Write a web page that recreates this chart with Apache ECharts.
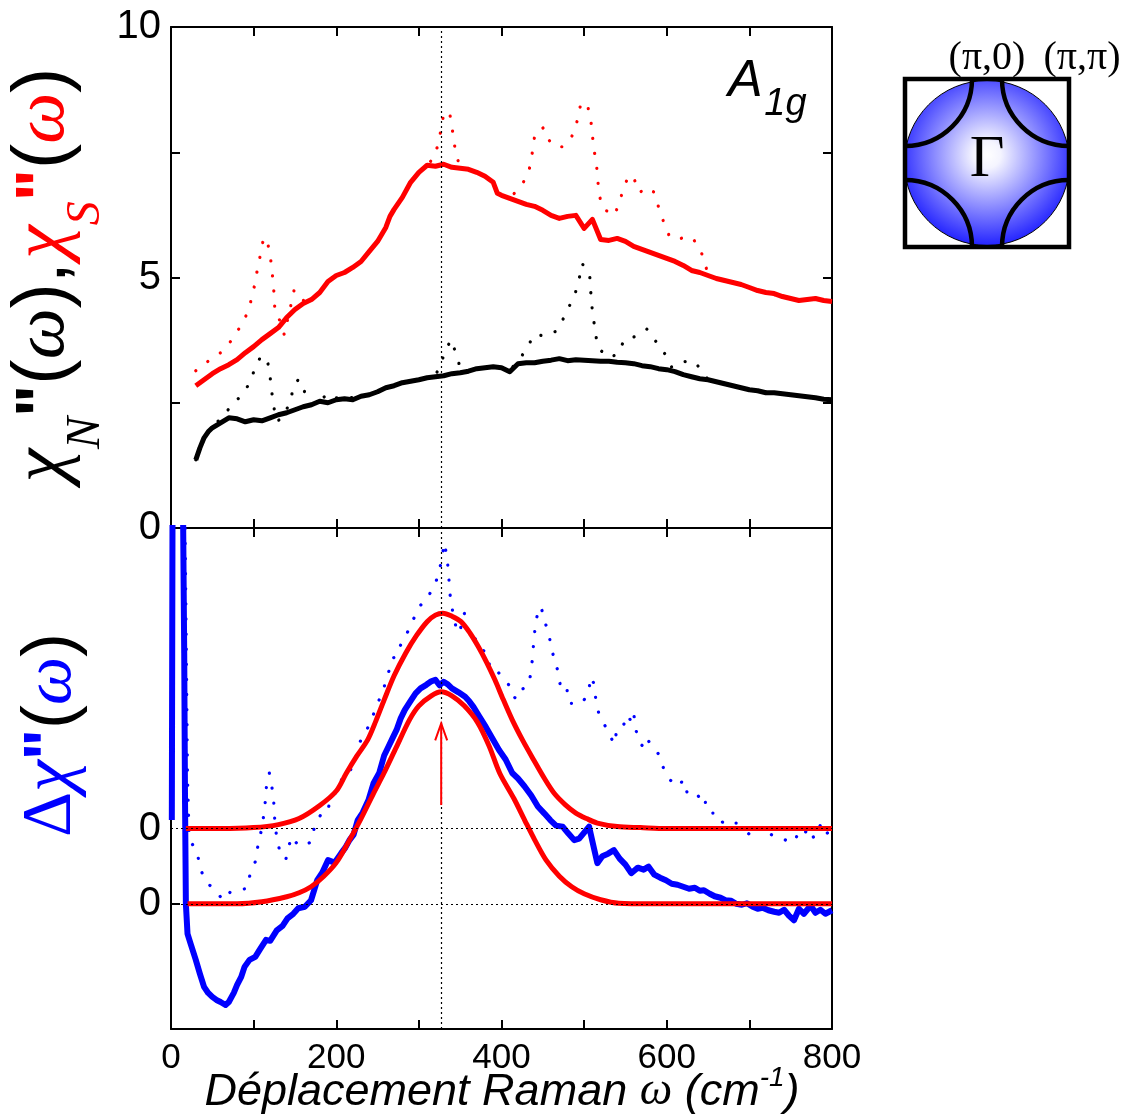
<!DOCTYPE html>
<html><head><meta charset="utf-8">
<script src="https://cdn.jsdelivr.net/npm/echarts@6/dist/echarts.min.js"></script>
<style>html,body{margin:0;padding:0;background:#fff}#c{width:1130px;height:1120px}</style>
</head><body><div id="c"></div>
<script>
// ---------- DATA (omega cm^-1, value) ----------
const xTickLabels = [0, 200, 400, 600, 800];
const topTickLabels = [0, 5, 10];
const bottomZeroLevels = [0, 1.5];
const peakOmega = 327;

// chi''_N  (normal state, smoothed, black solid)
const chiN = [[30,1.36],[35,1.6],[40,1.8],[45,1.92],[50,2.0],[60,2.1],[70,2.2],[80,2.18],[90,2.12],[100,2.16],[110,2.14],[120,2.2],[130,2.26],[140,2.3],[150,2.36],[160,2.42],[170,2.46],[180,2.53],[190,2.5],[200,2.56],[210,2.58],[220,2.56],[230,2.63],[240,2.66],[250,2.72],[260,2.8],[270,2.84],[280,2.9],[290,2.93],[300,2.96],[310,3.0],[320,3.02],[330,3.04],[340,3.08],[350,3.1],[360,3.13],[370,3.18],[380,3.2],[390,3.22],[400,3.2],[410,3.12],[420,3.28],[430,3.3],[440,3.3],[450,3.33],[460,3.35],[470,3.38],[480,3.34],[490,3.36],[500,3.35],[510,3.34],[520,3.33],[530,3.33],[540,3.31],[550,3.3],[560,3.28],[570,3.24],[580,3.22],[590,3.18],[600,3.16],[610,3.12],[620,3.06],[630,3.02],[640,2.98],[650,2.96],[660,2.92],[670,2.88],[680,2.84],[690,2.8],[700,2.76],[710,2.74],[720,2.7],[730,2.7],[740,2.68],[750,2.66],[760,2.64],[770,2.62],[780,2.6],[790,2.57],[800,2.56]];

// chi''_S  (superconducting state, smoothed, red solid)
const chiS = [[30,2.84],[40,2.96],[50,3.08],[60,3.18],[70,3.26],[80,3.36],[90,3.5],[100,3.62],[110,3.76],[120,3.88],[130,4.0],[140,4.2],[150,4.36],[160,4.48],[170,4.56],[180,4.7],[190,4.92],[200,5.04],[210,5.1],[220,5.2],[230,5.32],[240,5.52],[250,5.72],[260,6.0],[265,6.22],[270,6.36],[280,6.6],[290,6.9],[300,7.1],[310,7.24],[320,7.22],[330,7.26],[340,7.2],[350,7.18],[360,7.16],[370,7.1],[380,7.02],[390,6.9],[395,6.68],[400,6.64],[410,6.58],[420,6.52],[430,6.46],[440,6.42],[450,6.34],[460,6.24],[470,6.18],[480,6.22],[490,6.24],[500,5.98],[510,6.16],[520,5.76],[530,5.74],[540,5.78],[550,5.72],[560,5.62],[570,5.56],[580,5.5],[590,5.44],[600,5.38],[610,5.32],[620,5.24],[630,5.14],[640,5.1],[650,5.04],[660,4.98],[670,4.94],[680,4.9],[690,4.86],[700,4.8],[710,4.74],[720,4.7],[730,4.68],[740,4.62],[750,4.58],[760,4.54],[770,4.56],[780,4.58],[790,4.54],[800,4.52]];

// raw chi''_N with phonons (black dotted)
const chiNRaw = [[30,1.36],[40,1.8],[50,2.0],[62,2.23],[73,2.43],[84,2.63],[95,2.88],[101,3.16],[109,3.44],[117,3.32],[120,3.01],[122,2.71],[124.5,2.41],[128,2.13],[135,2.2],[145,2.54],[148,2.83],[154.5,2.97],[162,2.71],[170,2.46],[180,2.53],[190,2.69],[200,2.6],[210,2.58],[230,2.63],[250,2.72],[270,2.84],[290,2.93],[310,3.0],[320,3.05],[326.5,3.26],[331.7,3.53],[339,3.76],[345,3.48],[350,3.2],[360,3.13],[380,3.2],[400,3.2],[410,3.15],[423,3.39],[431.6,3.63],[440.6,3.87],[452,3.83],[465,3.92],[473.6,4.14],[481,4.39],[489,4.67],[494,4.97],[497.6,5.28],[506.7,5.05],[509,4.47],[511.5,4.17],[513.5,3.87],[518.4,3.57],[530,3.4],[540.6,3.47],[549,3.77],[564,3.83],[576,3.97],[587,3.72],[598,3.47],[606,3.21],[619,3.32],[633,3.33],[641,3.17],[650,2.96],[680,2.84],[700,2.76],[740,2.68],[770,2.62],[800,2.56]];

// raw chi''_S with phonons (red dotted)
const chiSRaw = [[30,3.14],[45,3.33],[61,3.51],[74,3.76],[85,4.05],[93,4.31],[98,4.61],[102,4.91],[105,5.21],[109,5.51],[112,5.79],[116,5.76],[120,5.46],[122,5.16],[124,4.85],[125,4.56],[126,4.29],[133,4.11],[137,3.86],[145,4.44],[149,4.75],[155,4.68],[162,4.5],[170,4.56],[180,4.7],[190,4.92],[200,5.04],[210,5.1],[220,5.2],[230,5.32],[240,5.52],[250,5.72],[260,6.0],[270,6.36],[280,6.6],[290,6.9],[300,7.1],[310,7.24],[318,7.39],[324,7.69],[327,7.99],[330,8.26],[337,8.31],[340,8.01],[345,7.43],[352,7.15],[360,7.16],[370,7.1],[380,7.02],[390,6.9],[400,6.64],[410,6.58],[422,6.8],[431,7.01],[436,7.31],[438,7.61],[441,7.91],[451,7.99],[458,7.73],[464,7.61],[474,7.61],[485,7.81],[493,8.19],[496,8.49],[504,8.44],[508,8.16],[510,7.84],[512,7.55],[515,7.25],[518,6.66],[523,6.37],[537,6.24],[543,6.53],[549,6.83],[554,7.04],[560,6.99],[567,6.69],[575,6.8],[584,6.71],[590,6.41],[596,6.12],[603,5.83],[611,5.75],[619,5.79],[630,5.81],[639,5.61],[644,5.41],[650,5.06],[660,4.98],[680,4.9],[700,4.8],[720,4.7],[740,4.62],[760,4.54],[780,4.58],[800,4.52]];

// Delta chi'' smoothed (blue solid), bottom panel, baseline 0
const dChi = [[1,1.67],[2,9],[14,9],[16,5],[17,2],[18,0],[20,-0.6],[23.6,-0.79],[30,-1.12],[35,-1.4],[40,-1.66],[45,-1.78],[50,-1.86],[55,-1.92],[60,-1.96],[66,-2.02],[70,-1.96],[76,-1.78],[80,-1.62],[85,-1.46],[89,-1.26],[95,-1.12],[102,-1.06],[108,-0.9],[115,-0.72],[120,-0.74],[128,-0.53],[135,-0.44],[141,-0.29],[148,-0.2],[154,-0.09],[162,-0.06],[169.5,0.07],[177,0.47],[183,0.62],[190,0.87],[198,0.82],[206,1.01],[211,1.12],[216,1.27],[221,1.38],[226,1.67],[232,1.82],[239,2.07],[245,2.4],[252,2.61],[258,2.96],[263,3.13],[268,3.3],[273,3.47],[278,3.7],[283,3.87],[290,4.05],[296,4.2],[302,4.3],[309,4.37],[315,4.44],[320,4.47],[325,4.36],[330,4.43],[335,4.38],[340,4.3],[348,4.22],[356,4.13],[361,4.04],[366,3.93],[373,3.74],[381,3.53],[389,3.3],[397,3.07],[405,2.88],[413,2.61],[420,2.5],[428,2.34],[436,2.16],[444,1.94],[452,1.8],[459,1.67],[466,1.56],[474,1.54],[481,1.4],[488,1.27],[494,1.3],[500,1.42],[506,1.54],[512,1.1],[516,0.81],[522,0.95],[529,1.0],[536,1.07],[543,0.9],[550,0.78],[557,0.61],[565,0.72],[572,0.68],[578,0.74],[585,0.58],[592,0.52],[599,0.47],[606,0.4],[613,0.38],[620,0.34],[627,0.3],[634,0.32],[640,0.26],[645,0.27],[652,0.2],[658,0.15],[665,0.12],[671,0.07],[678,0.06],[684,0.0],[691,-0.02],[697,0.01],[704,-0.06],[710,-0.1],[716,-0.08],[723,-0.13],[730,-0.16],[736,-0.18],[742,-0.12],[748,-0.24],[754,-0.33],[760,-0.1],[766,-0.2],[772,-0.08],[775,-0.06],[780,-0.18],[786,-0.12],[792,-0.2],[800,-0.13]];

// Delta chi'' raw (blue dotted), bottom panel, offset baseline 1.5
const dChiRaw = [[16,9],[18,6],[20,2.5],[22,1.3],[32,1.01],[35,0.71],[42.5,0.44],[53,0.27],[63.5,0.07],[72,0.24],[83,0.27],[92,0.31],[96,0.61],[102,0.84],[105,1.14],[109,1.44],[112,1.74],[114,2.02],[115.5,2.34],[119,2.61],[122,2.34],[124,2.14],[125,1.84],[126,1.54],[129,1.24],[133,0.95],[139,0.89],[145.6,1.34],[152,1.21],[159,1.14],[170,1.24],[174,1.57],[181,1.77],[189.6,1.81],[192.6,2.11],[201,2.24],[209,2.59],[216.5,2.64],[224,2.93],[228,3.21],[237,3.47],[243.8,3.73],[251,4.03],[258,4.33],[263,4.6],[268,4.9],[273.6,4.94],[278.6,5.2],[286.5,5.43],[294,5.7],[302,5.96],[310,6.06],[315,6.26],[318.8,6.33],[324,6.6],[328,6.9],[330.7,7.2],[334,6.93],[335.7,6.63],[337,6.33],[338.5,6.03],[344.8,5.53],[349,5.4],[355,5.8],[359,5.43],[365.5,5.4],[372,5.13],[380,5.03],[384,4.94],[386,4.68],[395.6,4.63],[403,4.47],[408.8,4.37],[411,4.2],[417.6,4.09],[420.7,4.25],[427,4.3],[433,4.37],[436,4.66],[437.7,4.94],[439,5.23],[440.8,5.53],[444,5.83],[448,5.93],[451.6,5.66],[457.4,5.4],[460,5.1],[462,5.0],[466,4.76],[470,4.56],[471.4,4.27],[479,4.3],[482,4.0],[487,4.0],[497.6,4.0],[505.5,4.23],[508,4.53],[511.7,4.4],[514,4.1],[517.6,3.81],[520,3.73],[526,3.53],[534,3.27],[537.7,3.19],[539,3.47],[547,3.53],[552,3.77],[557.5,3.63],[560,3.8],[562.6,3.47],[567.7,3.2],[572,3.13],[575.6,3.3],[584.5,3.1],[591,2.97],[596,2.71],[604,2.47],[613.6,2.34],[620,2.47],[625,2.2],[632.7,2.24],[640.5,2.11],[645.6,2.17],[648,1.87],[653.6,1.81],[661.6,1.81],[666.7,1.64],[672,1.57],[677,1.61],[685,1.61],[690,1.44],[695.6,1.57],[698,1.37],[707.5,1.57],[713.6,1.47],[721.5,1.44],[730,1.34],[739.6,1.31],[747,1.24],[755,1.24],[760,1.47],[766.6,1.41],[773,1.51],[778,1.31],[786,1.57],[791,1.37],[799,1.47]];

// fits (red solid), upper on 1.5 baseline, lower on 0 baseline
const fitUpper = [[18,1.5],[60,1.5],[100,1.52],[130,1.58],[155,1.7],[180,1.96],[200,2.25],[212,2.6],[225,2.95],[238,3.27],[248,3.65],[258,4.07],[270,4.55],[284,5.0],[297,5.35],[310,5.63],[320,5.76],[329,5.8],[340,5.74],[351,5.63],[362,5.4],[372,5.13],[382,4.82],[392,4.47],[402,4.08],[413,3.67],[426,3.25],[439,2.87],[452,2.5],[464,2.2],[477,1.98],[490,1.81],[503,1.7],[516,1.61],[540,1.54],[568,1.52],[600,1.5],[800,1.5]];
const fitLower = [[20,0],[80,0],[110,0.04],[140,0.14],[155,0.22],[169.5,0.34],[185,0.55],[200,0.82],[216,1.27],[230,1.7],[245,2.2],[257.5,2.6],[272,3.1],[288.6,3.67],[300,3.95],[315,4.15],[327,4.23],[340,4.15],[355,3.95],[371,3.62],[385,3.15],[398,2.6],[415,2.1],[428,1.67],[440,1.28],[454,0.87],[470,0.55],[485,0.34],[500,0.2],[520,0.08],[542,0.01],[580,0],[800,0]];

// arrow marking the peak: [omega, from, to]
const peakArrow = [[327, 1.97, 3.6]];

// ---------- CHART ----------
const chart = echarts.init(document.getElementById('c'));
const AX = {onZero:false, lineStyle:{color:'#000',width:2}};
const tickIn = (extra) => Object.assign({show:true,inside:true,length:9,lineStyle:{color:'#000',width:2}}, extra||{});
const sans = 'Liberation Sans, Arial, sans-serif';
const SANS = '"Liberation Sans", Arial, sans-serif';
const SERIF = '"Liberation Serif", "Times New Roman", serif';
const F = (st, wt, sz, fam) => st + ' ' + wt + ' ' + sz + 'px ' + fam;

const dotted = (color) => ({color, width:3.2, type:[0.1,15], cap:'round'});
const refLine = {silent:true, symbol:'none', label:{show:false}, lineStyle:{color:'#000',width:1.2,type:[2,3]}, animation:false};

const option = {
  animation:false,
  backgroundColor:'#fff',
  grid:[
    {left:171, top:27, width:661, height:501},
    {left:171, top:528, width:661, height:501}
  ],
  xAxis:[
    {gridIndex:0, type:'value', min:0, max:800, interval:100, position:'bottom', axisLine:AX, axisTick:tickIn(), axisLabel:{show:false}, splitLine:{show:false}},
    {gridIndex:0, type:'value', min:0, max:800, interval:100, position:'top', axisLine:AX, axisTick:tickIn(), axisLabel:{show:false}, splitLine:{show:false}},
    {gridIndex:1, type:'value', min:0, max:800, interval:100, position:'bottom', axisLine:AX, axisTick:tickIn(),
      axisLabel:{show:true, customValues:xTickLabels, fontFamily:sans, fontSize:35, color:'#000', margin:12}, splitLine:{show:false}},
    {gridIndex:1, type:'value', min:0, max:800, interval:100, position:'top', axisLine:AX, axisTick:tickIn(), axisLabel:{show:false}, splitLine:{show:false}}
  ],
  yAxis:[
    {gridIndex:0, type:'value', min:0, max:10, interval:2.5, position:'left', axisLine:AX, axisTick:tickIn(),
      axisLabel:{show:true, customValues:topTickLabels, fontFamily:sans, fontSize:40, color:'#000', margin:10}, splitLine:{show:false}},
    {gridIndex:0, type:'value', min:0, max:10, interval:2.5, position:'right', axisLine:AX, axisTick:tickIn(), axisLabel:{show:false}, splitLine:{show:false}},
    {gridIndex:1, type:'value', min:-2.5, max:7.5, interval:0.5, position:'left', axisLine:AX,
      axisTick:tickIn({customValues:[0]}),
      axisLabel:{show:true, customValues:bottomZeroLevels, formatter:()=> '0', fontFamily:sans, fontSize:40, color:'#000', margin:10}, splitLine:{show:false}},
    {gridIndex:1, type:'value', min:-2.5, max:7.5, interval:0.5, position:'right', axisLine:AX, axisTick:{show:false}, axisLabel:{show:false}, splitLine:{show:false}}
  ],
  series:[
    {type:'line', xAxisIndex:0, yAxisIndex:0, data:chiNRaw, showSymbol:false, lineStyle:dotted('#000'), z:2,
      markLine:Object.assign({}, refLine, {data:[{xAxis:peakOmega}]})},
    {type:'line', xAxisIndex:0, yAxisIndex:0, data:chiSRaw, showSymbol:false, lineStyle:dotted('#ff0000'), z:2},
    {type:'line', xAxisIndex:0, yAxisIndex:0, data:chiN, showSymbol:false, lineStyle:{color:'#000',width:5,join:'round'}, z:3},
    {type:'line', xAxisIndex:0, yAxisIndex:0, data:chiS, showSymbol:false, lineStyle:{color:'#ff0000',width:5,join:'round'}, z:3},

    {type:'line', xAxisIndex:2, yAxisIndex:2, data:dChiRaw, showSymbol:false, lineStyle:dotted('#0000ff'), z:2, clip:true,
      markLine:Object.assign({}, refLine, {data:[{xAxis:peakOmega},{yAxis:bottomZeroLevels[0]},{yAxis:bottomZeroLevels[1]}]})},
    {type:'line', xAxisIndex:2, yAxisIndex:2, data:dChi, showSymbol:false, lineStyle:{color:'#0000ff',width:6,join:'round'}, z:3, clip:true},
    {type:'line', xAxisIndex:2, yAxisIndex:2, data:fitUpper, showSymbol:false, smooth:0.3, lineStyle:{color:'#ff0000',width:5}, z:4},
    {type:'line', xAxisIndex:2, yAxisIndex:2, data:fitLower, showSymbol:false, smooth:0.3, lineStyle:{color:'#ff0000',width:5}, z:4},
    {type:'custom', xAxisIndex:2, yAxisIndex:2, data:peakArrow, z:5,
      renderItem:(p, api) => {
        const a = api.coord([api.value(0), api.value(1)]);
        const b = api.coord([api.value(0), api.value(2)]);
        return {type:'group', children:[
          {type:'line', shape:{x1:a[0],y1:a[1],x2:b[0],y2:b[1]}, style:{stroke:'#ff0000',lineWidth:2}},
          {type:'polyline', shape:{points:[[b[0]-6,b[1]+17],[b[0],b[1]],[b[0]+6,b[1]+17]]}, style:{stroke:'#ff0000',lineWidth:2,fill:null}}
        ]};
      }}
  ],
  graphic:[
    // y title top
    {type:'text', x:44, y:275, rotation:Math.PI/2, z:10,
      style:{x:0, y:0, align:'center', verticalAlign:'middle',
        text:'{k|χ}{sn|N}{q|"}{p|(}{w|ω}{p|),} {kr|χ}{sr|S}{qr|"}{p|(}{wr|ω}{p|)}',
        rich:{
          k:{font:F('italic','normal',76,SERIF), fill:'#000'},
          kr:{font:F('italic','normal',76,SERIF), fill:'#ff0000'},
          sn:{font:F('italic','normal',48,SERIF), fill:'#000', padding:[84,0,0,0]},
          sr:{font:F('italic','normal',48,SERIF), fill:'#ff0000', padding:[84,0,0,0]},
          q:{font:F('normal','bold',68,SANS), fill:'#000'},
          qr:{font:F('normal','bold',68,SANS), fill:'#ff0000'},
          p:{font:F('normal','normal',76,SANS), fill:'#000'},
          w:{font:F('italic','normal',72,SERIF), fill:'#000'},
          wr:{font:F('italic','normal',72,SERIF), fill:'#ff0000'}
        }}},
    // y title bottom
    {type:'text', x:52, y:735, rotation:Math.PI/2, z:10,
      style:{x:0, y:0, align:'center', verticalAlign:'middle',
        text:'{d|Δ}{k|χ}{q|"}{p|(}{w|ω}{p|)}',
        rich:{
          d:{font:F('normal','normal',70,SERIF), fill:'#0000ff'},
          k:{font:F('italic','normal',72,SERIF), fill:'#0000ff'},
          q:{font:F('normal','bold',66,SANS), fill:'#0000ff'},
          p:{font:F('normal','normal',72,SANS), fill:'#000'},
          w:{font:F('italic','normal',68,SERIF), fill:'#0000ff'}
        }}},
    // x title
    {type:'text', x:502, y:1092, z:10,
      style:{x:0, y:0, align:'center', verticalAlign:'middle',
        text:'{t|Déplacement Raman }{w|ω}{t| (cm}{s|-1}{t|)}',
        rich:{
          t:{font:F('italic','normal',45,SANS), fill:'#000'},
          w:{font:F('italic','normal',46,SERIF), fill:'#000'},
          s:{font:F('italic','normal',28,SANS), fill:'#000', padding:[0,0,28,0]}
        }}},
    // A1g label
    {type:'text', x:728, y:82, z:10,
      style:{x:0, y:0, align:'left', verticalAlign:'middle',
        text:'{a|A}{g| }{s|1g}',
        rich:{
          a:{font:F('italic','normal',52,SANS), fill:'#000'},
          g:{font:F('normal','normal',6,SANS), fill:'#000'},
          s:{font:F('italic','normal',38,SANS), fill:'#000', padding:[44,0,0,0]}
        }}},
    // inset: Brillouin zone
    {type:'circle', z:10, shape:{cx:987, cy:163, r:82.5},
      style:{fill:{type:'radial', x:0.5, y:0.45, r:0.55, colorStops:[{offset:0,color:'#ffffff'},{offset:0.15,color:'#f4f4ff'},{offset:1,color:'#2222ff'}]}, stroke:'#000', lineWidth:1}},
    {type:'arc', z:11, shape:{cx:905, cy:79, r:67, startAngle:0, endAngle:Math.PI/2}, style:{stroke:'#000', lineWidth:4.5, fill:null}},
    {type:'arc', z:11, shape:{cx:1069, cy:79, r:67, startAngle:Math.PI/2, endAngle:Math.PI}, style:{stroke:'#000', lineWidth:4.5, fill:null}},
    {type:'arc', z:11, shape:{cx:1069, cy:247, r:67, startAngle:Math.PI, endAngle:Math.PI*1.5}, style:{stroke:'#000', lineWidth:4.5, fill:null}},
    {type:'arc', z:11, shape:{cx:905, cy:247, r:67, startAngle:Math.PI*1.5, endAngle:Math.PI*2}, style:{stroke:'#000', lineWidth:4.5, fill:null}},
    {type:'rect', z:12, shape:{x:905, y:79, width:164, height:168}, style:{stroke:'#000', lineWidth:4.5, fill:null}},
    {type:'text', z:12, x:987, y:160, style:{x:0, y:0, align:'center', verticalAlign:'middle', text:'Γ', font:F('normal','normal',60,SERIF), fill:'#000'}},
    {type:'text', z:12, x:987, y:58, style:{x:0, y:0, align:'center', verticalAlign:'middle', text:'(π,0)', font:F('normal','normal',40,SERIF), fill:'#000'}},
    {type:'text', z:12, x:1082, y:58, style:{x:0, y:0, align:'center', verticalAlign:'middle', text:'(π,π)', font:F('normal','normal',40,SERIF), fill:'#000'}}
  ]
};
chart.setOption(option);
</script></body></html>
